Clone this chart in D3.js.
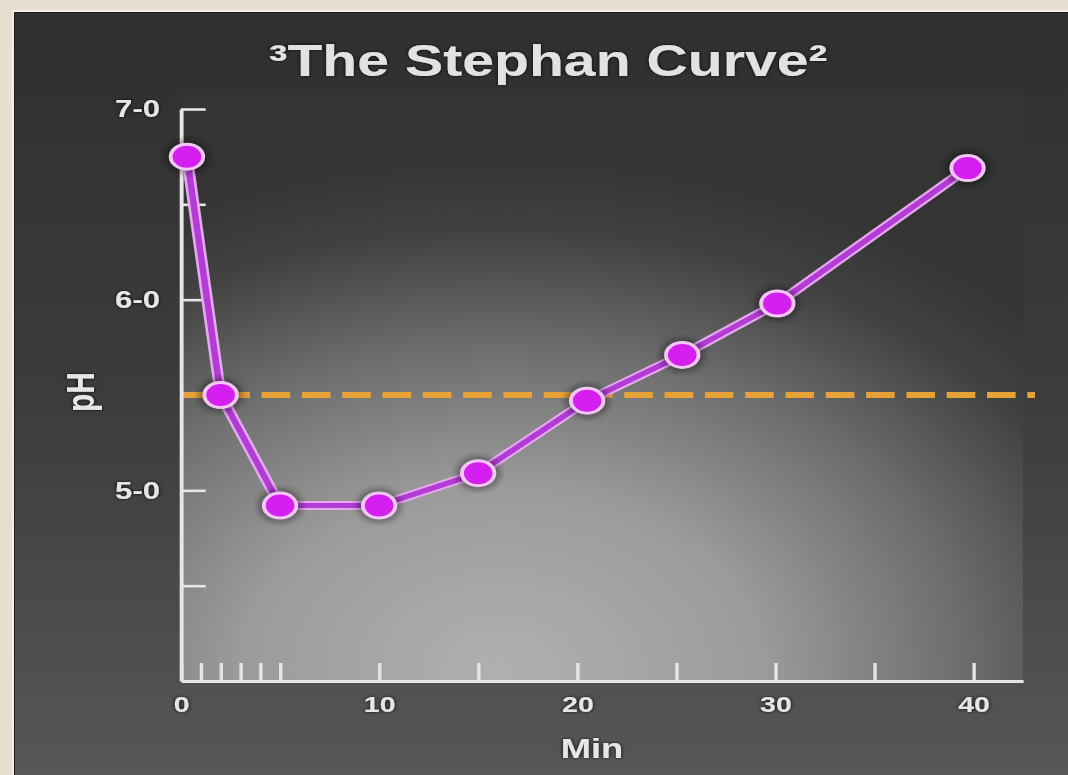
<!DOCTYPE html>
<html>
<head>
<meta charset="utf-8">
<script src="https://cdn.jsdelivr.net/npm/d3@7"></script>
<style>
  body { margin: 0; background: #e7dfd1; }
  svg { display: block; }
</style>
</head>
<body>
<div id="viz-container"></div>
<script>
let w = 1068;
let h = 775;
// the picture is stretched sideways, so everything is drawn in a squeezed group
const SX = 1.3;

// data
let minutes = [0.3, 2, 5, 10, 15, 20.5, 25.3, 30.1, 39.7];
let phValues = [6.75, 5.5, 4.92, 4.92, 5.09, 5.47, 5.71, 5.98, 6.69];
let criticalPh = 5.5;
let yTicks = [4.5, 5, 6, 6.5, 7];
let xTicks = [0, 1, 2, 3, 4, 5, 10, 15, 20, 25, 30, 35, 40];
let xLabelled = [0, 10, 20, 30, 40];
let yLabelled = [5, 6, 7];
let title = "\u00b3The Stephan Curve\u00b2";

let viz = d3.select("#viz-container")
              .append("svg")
              .attr("width", w)
              .attr("height", h);

let defs = viz.append("defs");

let panelGrad = defs.append("linearGradient")
    .attr("id", "panelGrad")
    .attr("x1", 0).attr("y1", 0).attr("x2", 0).attr("y2", 1);
panelGrad.append("stop").attr("offset", "0").attr("stop-color", "#2f2f2f");
panelGrad.append("stop").attr("offset", "0.5").attr("stop-color", "#3c3c3c");
panelGrad.append("stop").attr("offset", "1").attr("stop-color", "#585858");

let plotGrad = defs.append("radialGradient")
    .attr("id", "plotGrad")
    .attr("cx", 0.38).attr("cy", 0.98).attr("r", 0.88);
plotGrad.append("stop").attr("offset", "0").attr("stop-color", "#b0b0b0");
plotGrad.append("stop").attr("offset", "0.35").attr("stop-color", "#9b9b9b");
plotGrad.append("stop").attr("offset", "0.62").attr("stop-color", "#6e6e6e");
plotGrad.append("stop").attr("offset", "0.85").attr("stop-color", "#414141");
plotGrad.append("stop").attr("offset", "1").attr("stop-color", "#343434");

let shadow = defs.append("filter").attr("id", "shadow")
    .attr("x", "-20%").attr("y", "-20%").attr("width", "140%").attr("height", "140%");
shadow.append("feDropShadow")
    .attr("dx", 0).attr("dy", 0)
    .attr("stdDeviation", 1.8)
    .attr("flood-color", "#000")
    .attr("flood-opacity", 0.9);

let blur = defs.append("filter").attr("id", "blur");
blur.append("feGaussianBlur").attr("stdDeviation", 3);

// beige page + framed dark panel
viz.append("rect")
    .attr("width", w).attr("height", h)
    .attr("fill", "#e7dfd1");
viz.append("rect")
    .attr("x", 12).attr("y", 10)
    .attr("width", w).attr("height", h)
    .attr("fill", "#f3f0ea");
viz.append("rect")
    .attr("x", 14).attr("y", 12)
    .attr("width", w).attr("height", h)
    .attr("fill", "#1e1e1e");
viz.append("rect")
    .attr("x", 15).attr("y", 13)
    .attr("width", w).attr("height", h)
    .attr("fill", "url(#panelGrad)");

let g = viz.append("g").attr("transform", `scale(${SX},1)`);

let x = d3.scaleLinear().domain([0, 42.5]).range([181 / SX, 1023 / SX]);
let y = d3.scaleLinear().domain([4, 7]).range([681, 109]);

g.append("rect")
    .attr("x", x(0))
    .attr("y", 95)
    .attr("width", x(42.5) - x(0))
    .attr("height", y(4) - 95)
    .attr("fill", "url(#plotGrad)");

g.append("text")
    .text(title)
    .attr("x", 548 / SX)
    .attr("y", 76)
    .attr("text-anchor", "middle")
    .attr("font-family", "Liberation Sans, Arial, sans-serif")
    .attr("font-weight", 700)
    .attr("font-size", 44)
    .attr("fill", "#e2e2e2")
    .attr("filter", "url(#shadow)");

// critical pH line
g.append("line")
    .attr("x1", x(0)).attr("x2", 1035 / SX)
    .attr("y1", y(criticalPh)).attr("y2", y(criticalPh))
    .attr("stroke", "#e6a236")
    .attr("stroke-width", 6)
    .attr("stroke-dasharray", "22,9");

let yAxis = d3.axisLeft(y)
    .tickValues(yTicks)
    .tickSizeInner(-19)
    .tickSizeOuter(0)
    .tickPadding(16)
    .tickFormat(d => yLabelled.includes(d) ? d + "-0" : "");
let xAxis = d3.axisBottom(x)
    .tickValues(xTicks)
    .tickSizeInner(-18)
    .tickSizeOuter(0)
    .tickPadding(15)
    .tickFormat(d => xLabelled.includes(d) ? d : "");

let yG = g.append("g").attr("transform", `translate(${x(0)},0)`).call(yAxis);
let xG = g.append("g").attr("transform", `translate(0,${y(4)})`).call(xAxis);

[yG, xG].forEach(a => {
  a.attr("font-family", "Liberation Sans, Arial, sans-serif")
   .attr("font-size", 24)
   .attr("font-weight", 700);
  a.select(".domain").attr("stroke", "#e6e6e6").attr("stroke-width", 3);
  a.selectAll(".tick line").attr("stroke", "#e6e6e6").attr("stroke-width", 2.6);
  a.selectAll(".tick text").attr("fill", "#e6e6e6").attr("filter", "url(#shadow)");
});
xG.selectAll(".tick text").attr("font-size", 22);

g.append("text")
    .text("pH")
    .attr("transform", `translate(${94 / SX},392) rotate(-90)`)
    .attr("text-anchor", "middle")
    .attr("font-family", "Liberation Sans, Arial, sans-serif")
    .attr("font-weight", 700)
    .attr("font-size", 30)
    .attr("fill", "#e6e6e6")
    .attr("filter", "url(#shadow)");

g.append("text")
    .text("Min")
    .attr("x", 592 / SX)
    .attr("y", 758)
    .attr("text-anchor", "middle")
    .attr("font-family", "Liberation Sans, Arial, sans-serif")
    .attr("font-weight", 700)
    .attr("font-size", 28)
    .attr("fill", "#e6e6e6")
    .attr("filter", "url(#shadow)");

// the curve
let points = minutes.map((m, i) => ({m: m, ph: phValues[i]}));
let lineMaker = d3.line().x(d => x(d.m)).y(d => y(d.ph));

g.append("path")
    .attr("d", lineMaker(points))
    .attr("fill", "none")
    .attr("stroke", "#e6a8f0")
    .attr("stroke-width", 9)
    .attr("stroke-linejoin", "round");
g.append("path")
    .attr("d", lineMaker(points))
    .attr("fill", "none")
    .attr("stroke", "#b23cd4")
    .attr("stroke-width", 5)
    .attr("stroke-linejoin", "round");

g.selectAll(".halo").data(points).enter().append("circle")
    .attr("class", "halo")
    .attr("cx", d => x(d.m))
    .attr("cy", d => y(d.ph))
    .attr("r", 17)
    .attr("fill", "#000")
    .attr("opacity", 0.35)
    .attr("filter", "url(#blur)");

g.selectAll(".point").data(points).enter().append("circle")
    .attr("class", "point")
    .attr("cx", d => x(d.m))
    .attr("cy", d => y(d.ph))
    .attr("r", 12.5)
    .attr("fill", "#d41ff0")
    .attr("stroke", "#f2c6f5")
    .attr("stroke-width", 3);
</script>
</body>
</html>
